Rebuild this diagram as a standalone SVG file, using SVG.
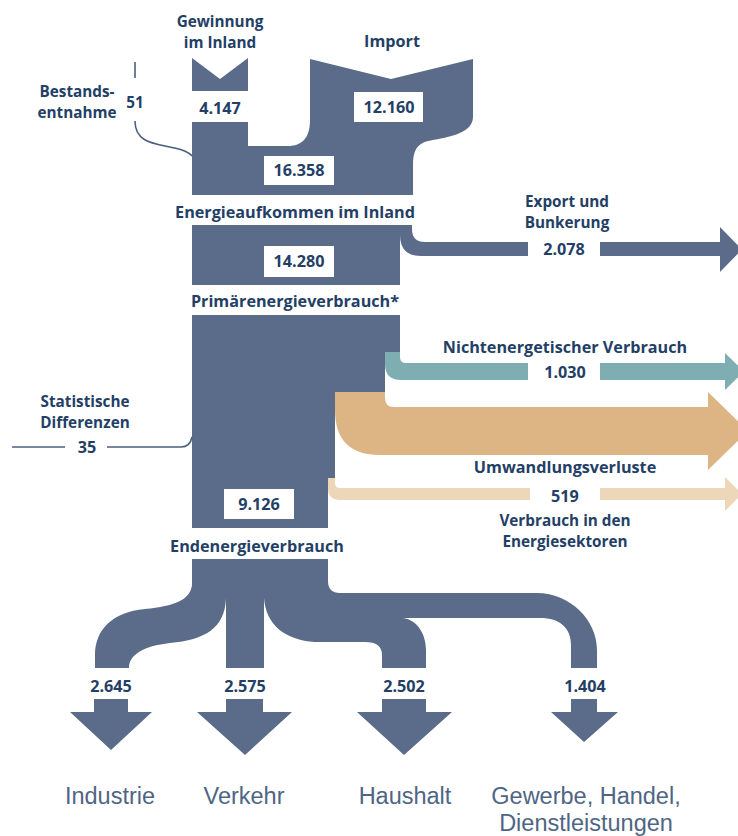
<svg xmlns="http://www.w3.org/2000/svg" width="738" height="836" viewBox="0 0 738 836">
<style>
.d{fill:#5a6c89}
.t{fill:#7eaeb1}
.u{fill:#ddb585}
.l{fill:#eed7b9}
.box{fill:#ffffff}
.b{font-family:"Open Sans","Liberation Sans",sans-serif;font-weight:700;font-size:16.2px;fill:#243f66;text-anchor:middle}
.s{font-size:15.3px}
.n{font-family:"Liberation Sans",Arial,sans-serif;font-size:23.5px;fill:#4f6584;text-anchor:middle}
.ln{fill:none;stroke:#4a5f80;stroke-width:1.6}
</style>
<rect width="738" height="836" fill="#ffffff"/>
<g id="gewinnung">
<path class="d" d="M192,58 L220,79 L248,58 V91 H192 Z"/>
<text class="b s" x="220" y="27">Gewinnung</text>
<text class="b s" x="220" y="48">im Inland</text>
<text class="b" x="220" y="114">4.147</text>
</g>
<g id="import">
<text class="b" x="392" y="47">Import</text>
</g>
<g id="aufkommen">
<path class="d" d="M192,122 H248 V146 H288 C302,146 310,138 310,120 V59 L391,79 L473,59 V117 C473,135 442,138 428,141 C416,144 413,152 413,165 V195 H192 Z"/>
<rect class="box" x="354" y="92" width="69" height="30"/>
<text class="b" x="389" y="113">12.160</text>
<rect class="box" x="264" y="156" width="70" height="29"/>
<text class="b" x="299" y="176">16.358</text>
<text class="b" x="295" y="218">Energieaufkommen im Inland</text>
</g>
<g id="bestand">
<text class="b s" x="77" y="97">Bestands-</text>
<text class="b s" x="77" y="118">entnahme</text>
<text class="b s" x="135" y="108">51</text>
</g>
<g id="primaer">
<path class="d" d="M192,225 H400 V285 H192 Z"/>
<rect class="box" x="264" y="246" width="70" height="31"/>
<text class="b" x="299" y="267">14.280</text>
<text class="b" x="295" y="307">Primärenergieverbrauch*</text>
<path class="d" d="M192,315 H400 V352 H385 V392 H335 V478 H328 V528 H192 Z"/>
<rect class="box" x="224" y="489" width="70" height="30"/>
<text class="b" x="259" y="510">9.126</text>
</g>
<g id="export">
<text class="b s" x="567" y="207">Export und</text>
<text class="b s" x="567" y="228">Bunkerung</text>
<text class="b" x="564" y="255">2.078</text>
</g>
<g id="nichtenergetisch">
<text class="b" x="565" y="353">Nichtenergetischer Verbrauch</text>
<text class="b" x="565" y="378">1.030</text>
</g>
<g id="umwandlung">
<rect class="box" x="530" y="417" width="69" height="30"/>
<text class="b" x="565" y="438">3.570</text>
<text class="b" x="565" y="473">Umwandlungsverluste</text>
</g>
<g id="sektoren">
<text class="b" x="565" y="502">519</text>
<text class="b s" x="565" y="526">Verbrauch in den</text>
<text class="b s" x="565" y="547">Energiesektoren</text>
</g>
<g id="statistik">
<text class="b s" x="85" y="407">Statistische</text>
<text class="b s" x="85" y="428">Differenzen</text>
<text class="b" x="87" y="453">35</text>
</g>
<g id="endenergie">
<text class="b" x="257" y="552">Endenergieverbrauch</text>
</g>
<g id="connectors">
<path class="d" d="M400,225 H412 V229 Q412,242 425,242 H528 V256 H421 Q400,256 400,235 Z"/>
<path class="d" d="M600,242 H720 V227 L742,249.5 L720,272 V256 H600 Z"/>
<path class="t" d="M385,352 H400 V357 Q400,363 406,363 H528 V380 H401 Q385,380 385,364 Z"/>
<path class="t" d="M600,363 H725 V353 L744,371.5 L725,390 V380 H600 Z"/>
<path class="u" d="M335,392 H385 V398 Q385,407 394,407 H708 V392 L748,431 L708,470 V455 H380 Q335,455 335,410 Z"/>
<path class="l" d="M328,478 H335 V483 Q335,488 340,488 H530 V500 H340 Q328,500 328,488 Z"/>
<path class="l" d="M600,488 H725 V477 L742,494 L725,511 V500 H600 Z"/>
<path class="ln" d="M135,62 V78"/>
<path class="ln" d="M135,121 C135,140 150,143 165,146 C180,149 188,151 192,156"/>
<path class="ln" d="M12,447 H65"/>
<path class="ln" d="M107,447 H181 Q190,447 192,437"/>
<path class="d" d="M192,559 H328 V581 Q328,593 340,593 H537 C570,593 597,620 597,650 V668 H571 V645 C571,628 560,618 540,618 H403 C418,620 426,635 426,650 V668 H382 V655 Q382,642 365,642 H315 C285,640 266,625 264,598 V668 H226 V598 C225,628 205,640 170,643 C143,646 129,655 129,668 H95 V655 C95,630 112,612 145,609 C175,606 190,600 192,585 Z"/>
</g>
<g id="industrie">
<text class="b" x="111" y="692">2.645</text>
<path class="d" d="M94,699 H128 V712 H152 L111,750 L70,712 H94 Z"/>
<text class="n" x="110" y="804">Industrie</text>
</g>
<g id="verkehr">
<text class="b" x="245" y="692">2.575</text>
<path class="d" d="M226,699 H263 V712 H292 L245,755 L197,712 H226 Z"/>
<text class="n" x="244" y="804">Verkehr</text>
</g>
<g id="haushalt">
<text class="b" x="404" y="692">2.502</text>
<path class="d" d="M382,699 H426 V712 H452 L404,755 L357,712 H382 Z"/>
<text class="n" x="405" y="804">Haushalt</text>
</g>
<g id="gewerbe">
<text class="b" x="585" y="692">1.404</text>
<path class="d" d="M571,699 H597 V712 H618 L584,742 L551,712 H571 Z"/>
<text class="n" x="586" y="804">Gewerbe, Handel,</text>
<text class="n" x="586" y="830.5">Dienstleistungen</text>
</g>
</svg>
